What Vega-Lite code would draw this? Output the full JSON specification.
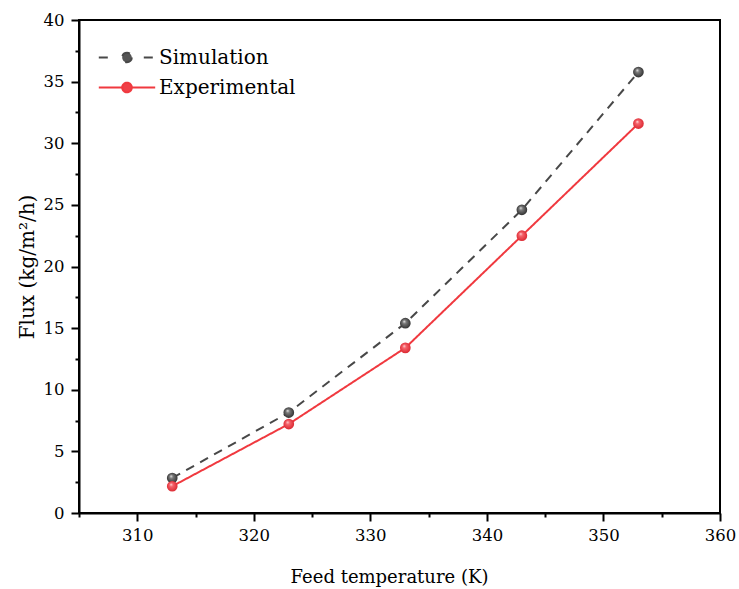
{
  "$schema": "https://vega.github.io/schema/vega-lite/v6.json",
  "width": 641,
  "height": 493,
  "autosize": {"type": "none"},
  "padding": {"left": 79, "top": 20, "right": 19, "bottom": 76},
  "background": "white",
  "config": {
    "font": "DejaVu Serif",
    "view": {"stroke": "black", "strokeWidth": 2},
    "axis": {
      "grid": false,
      "domainColor": "black",
      "domainWidth": 2,
      "tickColor": "black",
      "tickWidth": 2,
      "labelColor": "black",
      "titleColor": "black",
      "labelFont": "DejaVu Serif",
      "titleFont": "DejaVu Serif",
      "labelFontSize": 16.5,
      "titleFontWeight": "normal",
      "labelFlush": false,
      "labelOverlap": false
    }
  },
  "data": {
    "values": [
      {"temp": 313, "flux": 2.84, "series": "Simulation"},
      {"temp": 323, "flux": 8.15, "series": "Simulation"},
      {"temp": 333, "flux": 15.4, "series": "Simulation"},
      {"temp": 343, "flux": 24.6, "series": "Simulation"},
      {"temp": 353, "flux": 35.78, "series": "Simulation"},
      {"temp": 313, "flux": 2.17, "series": "Experimental"},
      {"temp": 323, "flux": 7.22, "series": "Experimental"},
      {"temp": 333, "flux": 13.4, "series": "Experimental"},
      {"temp": 343, "flux": 22.5, "series": "Experimental"},
      {"temp": 353, "flux": 31.6, "series": "Experimental"}
    ]
  },
  "encoding": {
    "x": {
      "field": "temp",
      "type": "quantitative",
      "scale": {"domain": [305, 360], "nice": false, "zero": false},
      "axis": {
        "title": "Feed temperature (K)",
        "titleFontSize": 18,
        "titleX": 310,
        "values": [305, 310, 315, 320, 325, 330, 335, 340, 345, 350, 355, 360],
        "format": "d",
        "labelExpr": "datum.value % 10 === 0 ? datum.label : ''",
        "tickSize": {"condition": {"test": "datum.value % 10 === 0", "value": 8}, "value": 4},
        "labelPadding": 6,
        "titlePadding": 25
      }
    },
    "y": {
      "field": "flux",
      "type": "quantitative",
      "scale": {"domain": [0, 40], "nice": false},
      "axis": {
        "title": "Flux (kg/m²/h)",
        "titleFontSize": 20,
        "values": [0, 2.5, 5, 7.5, 10, 12.5, 15, 17.5, 20, 22.5, 25, 27.5, 30, 32.5, 35, 37.5, 40],
        "labelExpr": "datum.value % 5 === 0 ? format(datum.value, 'd') : ''",
        "tickSize": {"condition": {"test": "datum.value % 5 === 0", "value": 8}, "value": 4},
        "labelPadding": 7,
        "titlePadding": 6
      }
    }
  },
  "layer": [
    {
      "mark": {"type": "line", "strokeWidth": 2},
      "encoding": {
        "color": {
          "field": "series",
          "type": "nominal",
          "scale": {"domain": ["Simulation", "Experimental"], "range": ["#484848", "#f0393f"]},
          "legend": {
            "title": null,
            "orient": "none",
            "legendX": 38,
            "legendY": 27.5,
            "padding": 0,
            "symbolSize": 144,
            "symbolStrokeWidth": 2,
            "labelFont": "DejaVu Serif",
            "labelFontSize": 20,
            "labelColor": "black",
            "labelOffset": 22,
            "rowPadding": 10,
            "encode": {
              "symbols": {
                "update": {
                  "shape": {"signal": "datum.value === 'Simulation' ? 'M-4.7,0H-3.2M2.8,0H4.7M0.8,0A0.8,0.8,0,1,1,-0.8,0A0.8,0.8,0,1,1,0.8,0Z' : 'M-4.7,0H-0.8M0.8,0H4.7M0.8,0A0.8,0.8,0,1,1,-0.8,0A0.8,0.8,0,1,1,0.8,0Z'"},
                  "fill": {"signal": "datum.value === 'Simulation' ? '#555555' : '#f04048'"},
                  "stroke": {"signal": "datum.value === 'Simulation' ? '#484848' : '#f0393f'"},
                  "strokeDash": {"value": []},
                  "opacity": {"value": 1}
                }
              }
            }
          }
        },
        "strokeDash": {
          "field": "series",
          "type": "nominal",
          "scale": {"domain": ["Simulation", "Experimental"], "range": [[9, 7], [1, 0]]},
          "legend": null
        }
      }
    },
    {
      "transform": [{"filter": "datum.series === 'Simulation'"}],
      "mark": {
        "type": "point",
        "filled": true,
        "size": 115,
        "opacity": 1,
        "strokeWidth": 0,
        "fill": {
          "gradient": "radial",
          "x1": 0.38, "y1": 0.32, "r1": 0,
          "x2": 0.5, "y2": 0.5, "r2": 0.55,
          "stops": [
            {"offset": 0, "color": "#f2f2f2"},
            {"offset": 0.3, "color": "#7a7a7a"},
            {"offset": 1, "color": "#2a2a2a"}
          ]
        }
      }
    },
    {
      "transform": [{"filter": "datum.series === 'Experimental'"}],
      "mark": {
        "type": "point",
        "filled": true,
        "size": 115,
        "opacity": 1,
        "strokeWidth": 0,
        "fill": {
          "gradient": "radial",
          "x1": 0.38, "y1": 0.32, "r1": 0,
          "x2": 0.5, "y2": 0.5, "r2": 0.55,
          "stops": [
            {"offset": 0, "color": "#ffe0e0"},
            {"offset": 0.3, "color": "#f5636b"},
            {"offset": 1, "color": "#d9232c"}
          ]
        }
      }
    }
  ]
}
